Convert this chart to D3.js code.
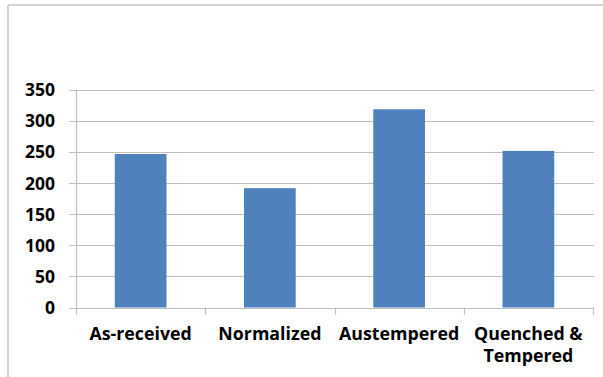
<!DOCTYPE html>
<html>
<head>
<meta charset="utf-8">
<script src="https://cdn.jsdelivr.net/npm/d3@7/dist/d3.min.js"></script>
<style>
  html, body { margin: 0; padding: 0; background: #fff; }
  svg { display: block; }
  text { font-family: "Open Sans", "Liberation Sans", sans-serif; font-weight: bold; fill: #000; }
</style>
</head>
<body>
<svg id="chart" width="603" height="377"></svg>
<script>
// Treatment conditions and their measured values
const categories = ["As-received", "Normalized", "Austempered", "Quenched & Tempered"];
const values = [247, 192, 319, 252];
const yTicks = [0, 50, 100, 150, 200, 250, 300, 350];

const svg = d3.select("#chart");
const W = 603, H = 377;
const margin = { left: 76, right: 10, top: 90, bottom: 70 };
const plotRight = 593;
const plotBottom = 307.5;

// Chart frame (top and left edges visible)
svg.append("line").attr("x1", 8).attr("x2", W).attr("y1", 5).attr("y2", 5)
  .attr("stroke", "#c4c4c4").attr("stroke-width", 1.5);
svg.append("line").attr("x1", 8).attr("x2", 8).attr("y1", 5).attr("y2", H)
  .attr("stroke", "#c4c4c4").attr("stroke-width", 1.5);

const x = d3.scaleBand().domain(categories).range([margin.left, plotRight]).paddingInner(0.6).paddingOuter(0.3);
const xb = d3.scaleBand().domain(categories).range([margin.left, plotRight]);
const y = d3.scaleLinear().domain([0, 350]).range([plotBottom, margin.top]);

// Horizontal gridlines with outward tick stubs
svg.append("g").selectAll("line").data(yTicks).join("line")
  .attr("x1", margin.left - 7).attr("x2", plotRight + 1)
  .attr("y1", d => Math.round(y(d)) + 0.5).attr("y2", d => Math.round(y(d)) + 0.5)
  .attr("stroke", "#bfbfbf").attr("stroke-width", 1.2);

// Y axis labels
svg.append("g").selectAll("text").data(yTicks).join("text")
  .attr("x", 55).attr("y", d => y(d))
  .attr("dy", "0.36em")
  .attr("text-anchor", "end")
  .style("font-size", "17.5px")
  .text(d => d);

// Vertical axis line
svg.append("line").attr("x1", margin.left + 0.5).attr("x2", margin.left + 0.5)
  .attr("y1", y(350)).attr("y2", plotBottom)
  .attr("stroke", "#bfbfbf").attr("stroke-width", 1.2);

// Category tick marks at band boundaries
const bounds = categories.map(c => xb(c)).concat([plotRight]);
svg.append("g").selectAll("line").data(bounds).join("line")
  .attr("x1", d => Math.round(d) + 0.5).attr("x2", d => Math.round(d) + 0.5)
  .attr("y1", plotBottom).attr("y2", plotBottom + 7)
  .attr("stroke", "#bfbfbf").attr("stroke-width", 1.2);

// Bars
svg.append("g").selectAll("rect").data(categories).join("rect")
  .attr("x", d => x(d))
  .attr("width", x.bandwidth())
  .attr("y", (d, i) => y(values[i]))
  .attr("height", (d, i) => plotBottom - y(values[i]))
  .attr("fill", "#4f81bd");

// Category labels (wrapped onto two lines where needed)
const wrapped = { "Quenched & Tempered": ["Quenched &", "Tempered"] };
const lbl = svg.append("g").selectAll("text").data(categories).join("text")
  .attr("x", d => xb(d) + xb.bandwidth() / 2)
  .attr("y", 340)
  .attr("text-anchor", "middle")
  .style("font-size", "17.8px");
lbl.each(function(d) {
  const lines = wrapped[d] || [d];
  const t = d3.select(this);
  lines.forEach((s, i) => {
    t.append("tspan").attr("x", xb(d) + xb.bandwidth() / 2).attr("dy", i === 0 ? 0 : 22).text(s);
  });
});
</script>
</body>
</html>
